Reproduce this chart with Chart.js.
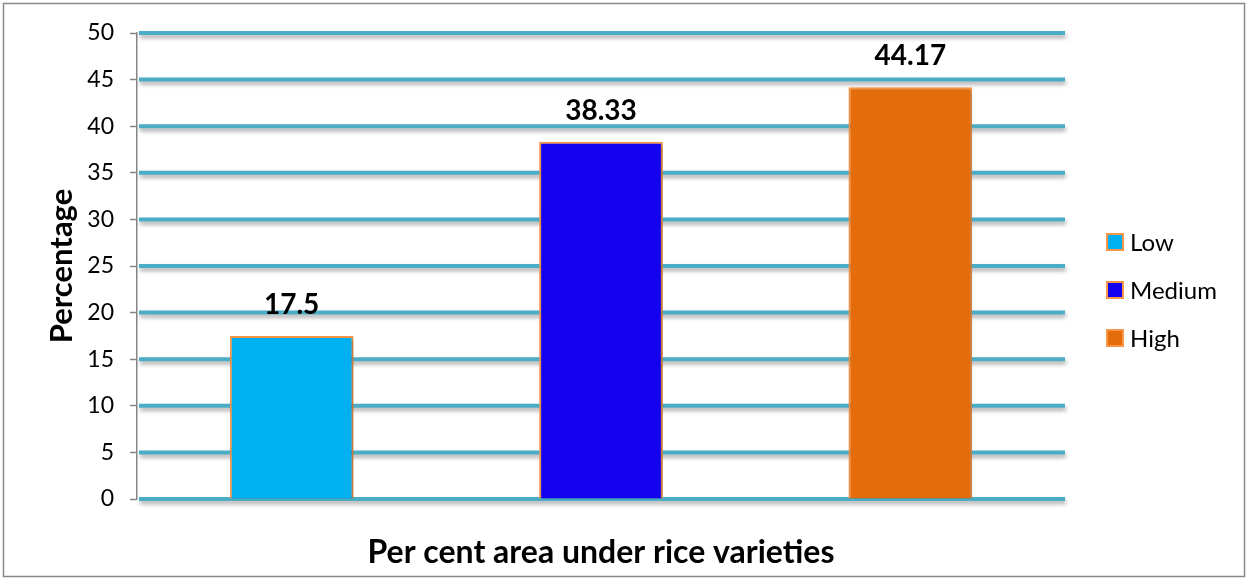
<!DOCTYPE html>
<html>
<head>
<meta charset="utf-8">
<title>Rice varieties</title>
<script src="https://cdn.jsdelivr.net/npm/chart.js@4.4.1/dist/chart.umd.min.js"></script>
<style>
  html, body { margin: 0; padding: 0; background: #fff; }
  #wrap { position: relative; width: 1247px; height: 579px; }
</style>
</head>
<body>
<div id="wrap"><canvas id="chart"></canvas></div>
<script>
// categories and values
const categories = ["Low", "Medium", "High"];
const shares = [17.5, 38.33, 44.17];
const barColors = ["#00B0F0", "#1300EF", "#E46C0A"];
const yTicks = { min: 0, max: 50, step: 5 };

const FONT = "Lato, 'Open Sans', sans-serif";
const GRID = "#4BACC6";
const EDGE = "#F79646";

// horizontal gridlines with a soft drop shadow, drawn under the bars
const gridShadow = {
  id: "gridShadow",
  beforeDatasetsDraw(chart) {
    const { ctx, chartArea, scales } = chart;
    ctx.save();
    ctx.strokeStyle = GRID;
    ctx.lineWidth = 4;
    ctx.shadowColor = "rgba(0,0,0,0.35)";
    ctx.shadowBlur = 4;
    ctx.shadowOffsetX = 1;
    ctx.shadowOffsetY = 3;
    scales.y.ticks.forEach((t) => {
      const y = scales.y.getPixelForValue(t.value);
      ctx.beginPath();
      ctx.moveTo(chartArea.left + 2, y);
      ctx.lineTo(chartArea.right, y);
      ctx.stroke();
    });
    ctx.restore();
    // bar shadow
    ctx.save();
    ctx.shadowColor = "rgba(0,0,0,0.25)";
    ctx.shadowBlur = 4;
    ctx.shadowOffsetX = 2;
    ctx.shadowOffsetY = 2;
  },
  afterDatasetsDraw(chart) {
    chart.ctx.restore();
  }
};

// value labels above each bar
const valueLabels = {
  id: "valueLabels",
  afterDatasetsDraw(chart) {
    const { ctx } = chart;
    const meta = chart.getDatasetMeta(0);
    ctx.save();
    ctx.font = "bold 28px " + FONT;
    ctx.fillStyle = "#000";
    ctx.textAlign = "center";
    ctx.textBaseline = "middle";
    meta.data.forEach((bar, i) => {
      ctx.fillText(String(chart.data.datasets[0].data[i]), bar.x, bar.y - 31);
    });
    ctx.restore();
  }
};

// legend on the right plus the outer frame
const sideLegend = {
  id: "sideLegend",
  afterDraw(chart) {
    const { ctx } = chart;
    const ds = chart.data.datasets[0];
    ctx.save();
    ctx.font = "24px " + FONT;
    ctx.textBaseline = "middle";
    chart.data.labels.forEach((lab, i) => {
      const cy = 242 + i * 48;
      ctx.fillStyle = ds.backgroundColor[i];
      ctx.fillRect(1107, cy - 8, 16, 16);
      ctx.strokeStyle = EDGE;
      ctx.lineWidth = 2;
      ctx.strokeRect(1107, cy - 8, 16, 16);
      ctx.fillStyle = "#000";
      ctx.fillText(lab, 1130, cy + 1);
    });
    ctx.strokeStyle = "#898989";
    ctx.lineWidth = 1.5;
    ctx.strokeRect(3.5, 3.5, 1241, 573);
    ctx.restore();
  }
};

new Chart(document.getElementById("chart"), {
  type: "bar",
  data: {
    labels: categories,
    datasets: [{
      data: shares,
      backgroundColor: barColors,
      borderColor: EDGE,
      borderWidth: 2,
      categoryPercentage: 1,
      barPercentage: 0.4
    }]
  },
  options: {
    responsive: true,
    maintainAspectRatio: false,
    animation: false,
    layout: { padding: { top: 33, right: 182, left: 0, bottom: 0 } },
    plugins: { legend: { display: false }, tooltip: { enabled: false } },
    scales: {
      x: {
        grid: { display: false },
        border: { display: false },
        ticks: { display: false },
        title: {
          display: true,
          text: "Per cent area under rice varieties",
          color: "#000",
          font: { family: FONT, size: 32, weight: "bold" },
          padding: { top: 0, bottom: 7 }
        },
        afterFit(scale) { scale.height = 80; }
      },
      y: {
        min: yTicks.min,
        max: yTicks.max,
        ticks: {
          stepSize: yTicks.step,
          color: "#000",
          padding: 16,
          font: { family: FONT, size: 23 }
        },
        grid: { drawOnChartArea: false, tickColor: "#868686", tickLength: 7, tickWidth: 1.5 },
        border: { color: "#868686", width: 1.5 },
        title: {
          display: true,
          text: "Percentage",
          color: "#000",
          font: { family: FONT, size: 31, weight: "bold" },
          padding: { top: 43, bottom: 0 }
        },
        afterFit(scale) { scale.width = 137; }
      }
    }
  },
  plugins: [gridShadow, valueLabels, sideLegend]
});
</script>
</body>
</html>
